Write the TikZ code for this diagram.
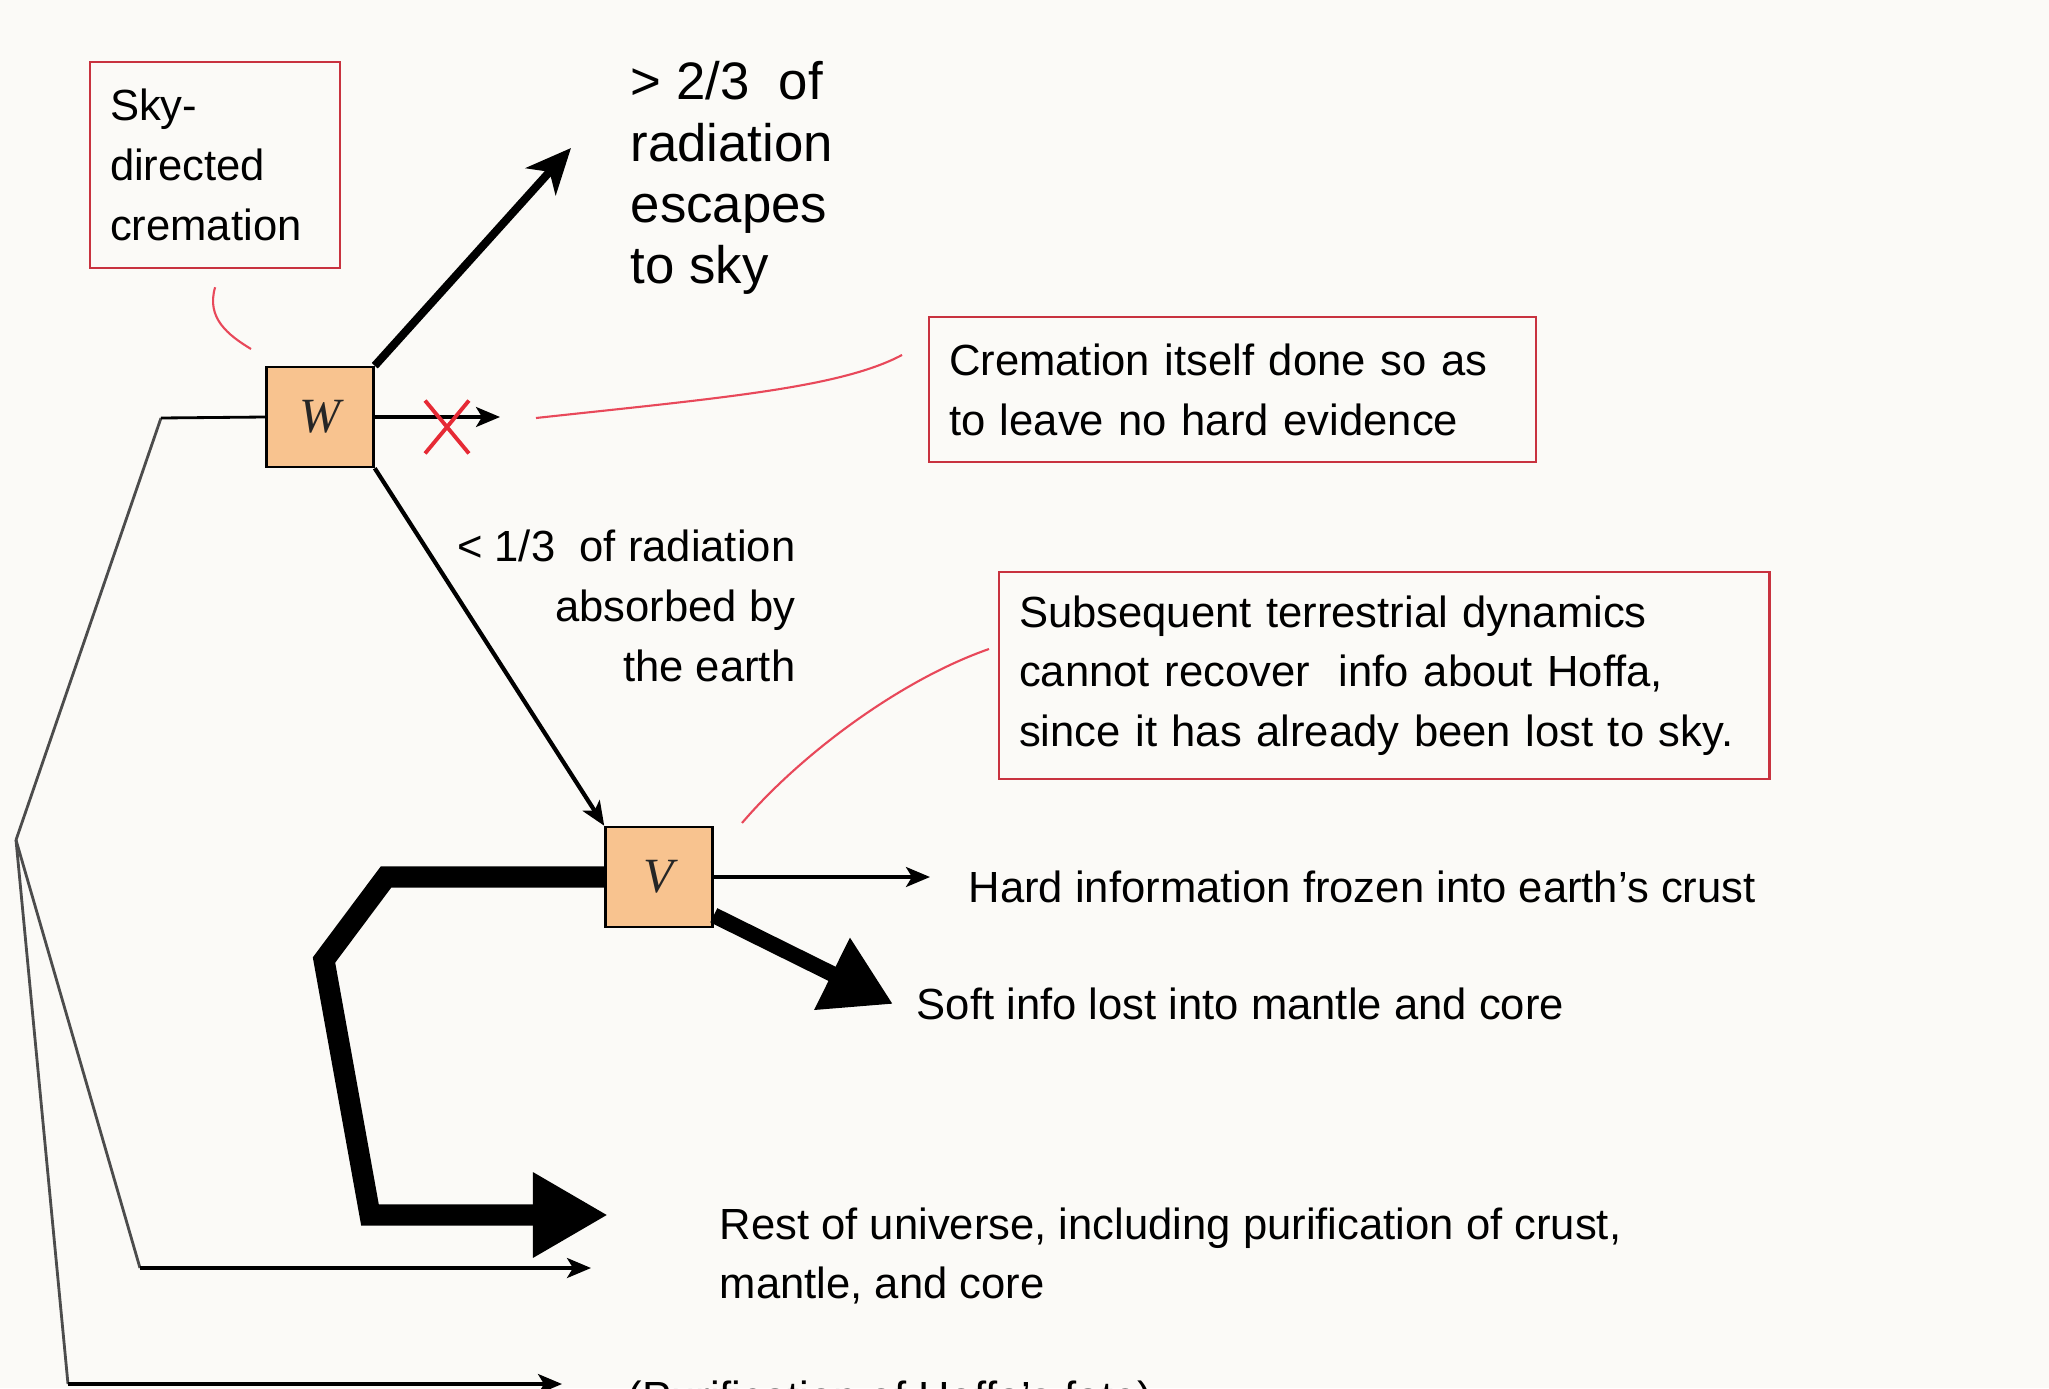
\documentclass[tikz,border=0pt]{standalone}
\usepackage{fontspec}
\setmainfont{Liberation Sans}
\newfontfamily\gatefont{Liberation Serif}
\usetikzlibrary{arrows.meta,shapes.misc}
\definecolor{paper}{HTML}{FBFAF7}
\definecolor{gatefill}{HTML}{F8C38F}
\definecolor{noteline}{HTML}{C8323F}
\definecolor{crossred}{HTML}{E62A35}
\definecolor{leadred}{HTML}{E8485A}
\begin{document}
\begin{tikzpicture}[x=0.01cm,y=-0.01cm,
  gate/.style={draw=black,line width=0.7pt,fill=gatefill,minimum width=1.07cm,minimum height=1cm,inner sep=0pt,font=\gatefont\itshape\fontsize{14}{14}\selectfont,text=black!85},
  notebox/.style={draw=noteline,line width=0.6pt,fill=paper,align=left,inner xsep=0.2cm,inner ysep=0pt,font=\fontsize{12.4}{17}\selectfont},
  lbl/.style={inner sep=0pt,font=\fontsize{12.4}{17}\selectfont},
  lead/.style={leadred,line width=0.6pt},
  feed/.style={gray!60!black,line width=0.8pt},
  thinarrow/.style={-{Stealth[length=2.4mm,width=2mm,inset=0.6mm]},line width=0.9pt}]
\useasboundingbox (0,0) rectangle (2049,1388);
\fill[paper] (0,0) rectangle (2049,1388);

\node[gate] (W) at (320,417) {W};
\node[gate] (V) at (659,877) {V};
\node[notebox,text width=2.1cm,minimum height=2.06cm,anchor=north west] (sky) at (89,61) {Sky-\\directed\\cremation};
\node[notebox,text width=5.67cm,minimum height=1.45cm,anchor=north west] (crem) at (928,316) {Cremation itself done so as\\to leave no hard evidence};
\node[notebox,text width=7.3cm,minimum height=2.07cm,anchor=north west] (subs) at (998,571) {Subsequent terrestrial dynamics\\cannot recover\ \ info about Hoffa,\\since it has already been lost to sky.};
\node[lbl,font=\fontsize{15}{17.4}\selectfont,align=left,anchor=west] (escape) at (630,178) {> 2/3\ \ of\\radiation\\escapes\\to sky};
\node[lbl,align=right,anchor=east] (absorb) at (796,606) {< 1/3\ \ of radiation\\absorbed by\\the earth};
\node[lbl,anchor=west] (hard) at (968,887) {Hard information frozen into earth's crust};
\node[lbl,anchor=west] (soft) at (916,1004) {Soft info lost into mantle and core};
\node[lbl,align=left,anchor=west] (rest) at (719,1256) {Rest of universe, including purification of crust,\\mantle, and core};
\node[lbl,anchor=north west] (purif) at (627,1380) {(Purification of Hoffa's fate)};

\coordinate (fork) at (161,418);
\coordinate (apex) at (16,840);
\coordinate (restfoot) at (140,1268);
\coordinate (resttip) at (591,1268);
\coordinate (purfoot) at (68,1384);
\coordinate (purtip) at (562,1384);
\coordinate (skytip) at (571,148);
\coordinate (notip) at (500,417);
\coordinate (cremfoot) at (536,418);
\coordinate (cremhook) at (902,355);
\coordinate (skyhook) at (251,349);
\coordinate (subsfoot) at (742,823);
\coordinate (subshook) at (989,649);
\coordinate (bend1) at (386,877);
\coordinate (bend2) at (324,960);
\coordinate (bend3) at (370,1215);
\coordinate (bigtip) at (608,1215);

\draw[feed] (apex) -- (fork);
\draw[line width=0.8pt] (fork) -- (W.west);
\draw[feed] (apex) -- (restfoot);
\draw[thinarrow] (restfoot) -- (resttip);
\draw[feed] (apex) -- (purfoot);
\draw[thinarrow] (purfoot) -- (purtip);
\draw[line width=2.3pt,-{Stealth[length=4.5mm,width=4mm,inset=1.3mm]}] (W.north east) -- (skytip);
\draw[thinarrow] (W.east) -- (notip);
\node[cross out,draw=crossred,line width=1.1pt,minimum width=0.4cm,minimum height=0.49cm,inner sep=0pt] (nox) at (447,427) {};
\draw[lead] (cremfoot) .. controls (720,398) and (840,388) .. (cremhook);
\draw[lead] ([yshift=-0.18cm]sky.south) .. controls (206,318) and (228,335) .. (skyhook);
\draw[lead] (subsfoot) .. controls (800,755) and (900,680) .. (subshook);
\draw[thinarrow,line width=1.2pt] (W.south east) -- (V.north west);
\draw[thinarrow] (V.east) -- ([xshift=-0.38cm]hard.west |- V.east);
\draw[line width=4.5pt,-{Triangle[length=6.8mm,width=7.6mm]}] ([yshift=0.13cm]V.south east) -- ([xshift=-0.23cm]soft.west);
\draw[line width=6pt,-{Triangle[length=7.5mm,width=8mm]}] (V.west) -- (bend1) -- (bend2) -- (bend3) -- (bigtip);
\end{tikzpicture}
\end{document}
